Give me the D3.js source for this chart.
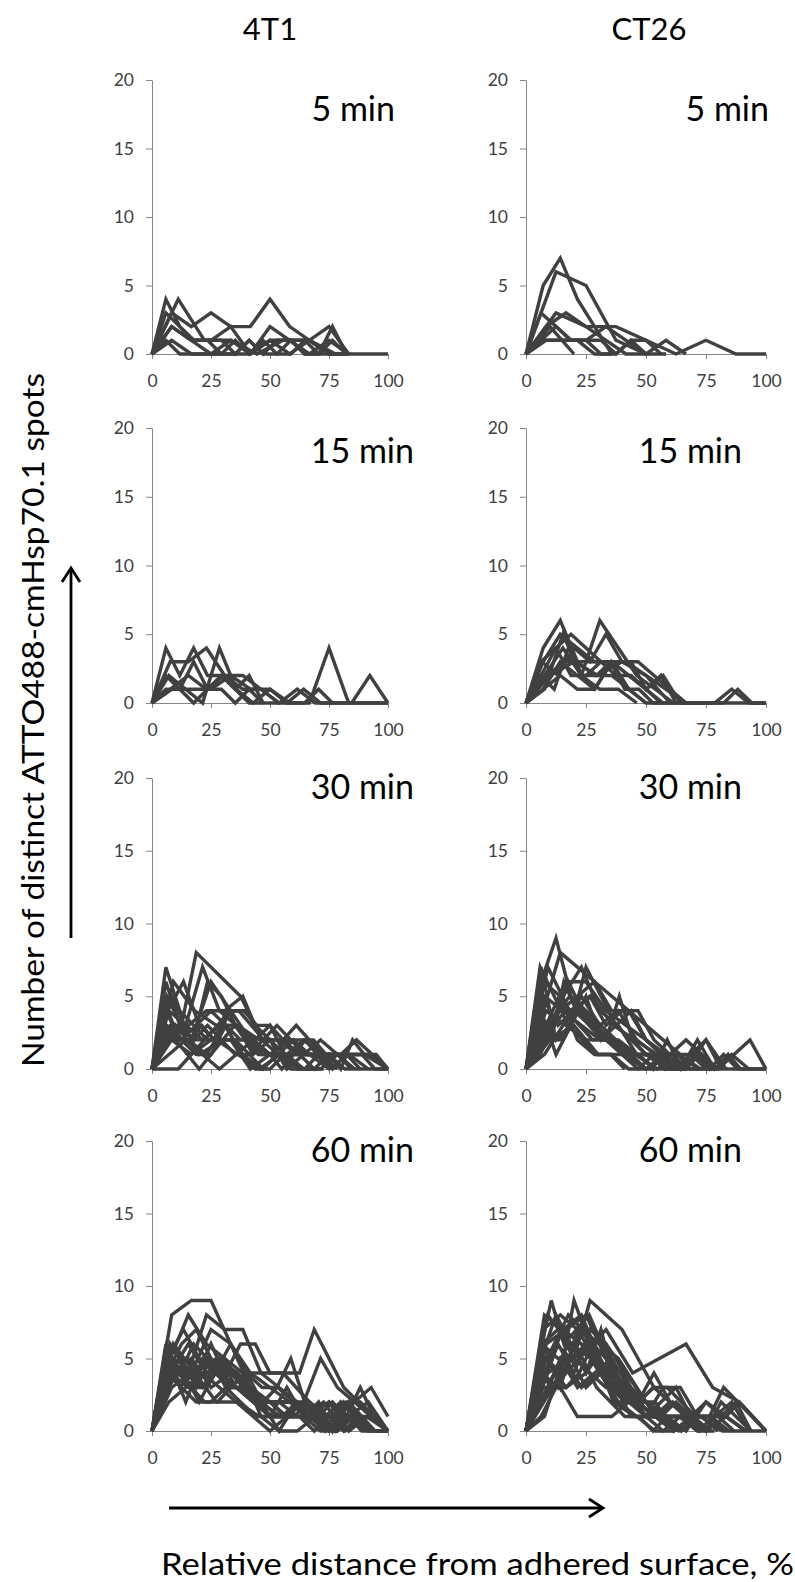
<!DOCTYPE html>
<html>
<head>
<meta charset="utf-8">
<script src="https://cdn.jsdelivr.net/npm/d3@7"></script>
<style>
  body { margin: 0; background: #fff; }
  svg { display: block; }
  text { font-family: Lato, "Open Sans", "Liberation Sans", sans-serif; }
</style>
</head>
<body>
<svg id="chart" width="795" height="1582"></svg>
<script>
// Categories and labels
const cellLines = ["4T1", "CT26"];
const timePoints = ["5 min", "15 min", "30 min", "60 min"];
const xTicks = [0, 25, 50, 75, 100];
const yTicks = [0, 5, 10, 15, 20];
const yTitle = "Number of distinct ATTO488-cmHsp70.1 spots";
const xTitle = "Relative distance from adhered surface, %";

// One trace per cell: n = number of slice intervals spanning 0–100 %,
// y = number of spots counted in each successive slice.
const t4T1_5 = [
  { n: 12, y: [0, 3, 2, 3, 2, 2, 4, 2, 1, 2, 0, 0, 0] },
  { n: 17, y: [0, 4, 2, 1, 1, 0, 0, 1, 0, 0, 1, 0, 0, 2, 0] },
  { n: 9,  y: [0, 4, 1, 1, 0, 1, 1, 0] },
  { n: 12, y: [0, 2, 1, 1, 2, 0, 1, 1, 0, 1, 0] },
  { n: 12, y: [0, 1, 0, 0, 1, 0, 1, 0, 1, 0, 0] },
  { n: 17, y: [0, 3, 2, 1, 1, 1, 0, 1, 0, 1, 1, 0, 0, 1, 0] },
  { n: 12, y: [0, 2, 1, 0, 0, 0, 2, 1, 1, 0, 0] },
  { n: 17, y: [0, 1, 0, 0, 0, 0, 1, 0, 1, 0, 0, 1, 0, 0, 0] }
];
const tCT26_5 = [
  { n: 14, y: [0, 5, 7, 4, 2, 0] },
  { n: 8,  y: [0, 6, 5, 1, 0] },
  { n: 8,  y: [0, 3, 2, 2, 1, 0, 1, 0, 0] },
  { n: 16, y: [0, 3, 2, 1, 1, 0, 0, 1, 0] },
  { n: 12, y: [0, 2, 3, 2, 1, 0, 0, 1, 0] },
  { n: 12, y: [0, 1, 1, 1, 2, 1, 0, 0] },
  { n: 10, y: [0, 2, 0] },
  { n: 16, y: [0, 1, 2, 1, 1, 1, 0, 1, 1, 0] },
  { n: 14, y: [0, 1, 1, 1, 0, 0] }
];
const t4T1_15 = [
  { n: 17, y: [0, 4, 2, 4, 2, 2, 1, 0, 0] },
  { n: 13, y: [0, 3, 3, 4, 2, 2, 1, 0, 1, 0, 0, 0, 2, 0] },
  { n: 14, y: [0, 2, 1, 0, 4, 1, 0, 1, 0, 1, 0, 0, 0, 0, 0] },
  { n: 12, y: [0, 1, 1, 1, 2, 1, 1, 0, 0, 4, 0, 0, 0] },
  { n: 17, y: [0, 2, 1, 0, 1, 2, 1, 2, 0, 0, 0, 0, 1, 0] },
  { n: 13, y: [0, 1, 2, 1, 2, 1, 1, 0] },
  { n: 17, y: [0, 1, 1, 3, 1, 1, 0, 1, 0] }
];
const tCT26_15 = [
  { n: 14, y: [0, 4, 6, 3, 2, 2, 1, 0, 0, 0, 0, 0, 0, 0, 0] },
  { n: 14, y: [0, 3, 5, 4, 3, 3, 1, 0] },
  { n: 16, y: [0, 2, 4, 5, 4, 3, 2, 2, 1, 0] },
  { n: 13, y: [0, 2, 4, 2, 6, 4, 2, 1, 0] },
  { n: 15, y: [0, 3, 2, 4, 3, 5, 3, 3, 2, 1, 0] },
  { n: 12, y: [0, 2, 3, 3, 3, 3, 2, 1, 0] },
  { n: 14, y: [0, 1, 3, 2, 1, 3, 2, 1, 2, 0, 0, 0, 1, 0, 0] },
  { n: 17, y: [0, 2, 1, 4, 2, 2, 3, 1, 1, 0, 0, 0, 0, 0, 0, 1, 0, 0] },
  { n: 10, y: [0, 2, 3, 2, 3, 2, 0] },
  { n: 14, y: [0, 1, 2, 1, 1, 3, 2, 1, 0] },
  { n: 16, y: [0, 3, 4, 2, 2, 3, 3, 3, 1, 2, 0] },
  { n: 13, y: [0, 1, 5, 2, 1, 1, 0] }
];
const t4T1_30 = [
  { n: 16, y: [0, 5, 3, 8, 7, 6, 5, 3, 2, 1, 0] },
  { n: 17, y: [0, 7, 4, 3, 2, 2, 1, 1, 0, 1, 0] },
  { n: 11, y: [0, 6, 4, 3, 3, 2, 2, 1, 1, 0, 0, 0] },
  { n: 14, y: [0, 4, 3, 7, 4, 3, 2, 1, 1, 2, 1, 0] },
  { n: 13, y: [0, 3, 3, 4, 4, 5, 2, 2, 1, 1, 0] },
  { n: 18, y: [0, 0, 0, 1, 2, 3, 4, 4, 3, 3, 2, 3, 2, 1, 1, 1, 1, 0, 0] },
  { n: 12, y: [0, 5, 2, 6, 4, 2, 1, 2, 1, 1, 1, 1, 0] },
  { n: 15, y: [0, 4, 6, 3, 2, 4, 4, 2, 1, 2, 1, 1, 1, 2, 1, 0] },
  { n: 17, y: [0, 6, 3, 2, 6, 5, 3, 2, 1, 1, 0, 0, 1, 0] },
  { n: 16, y: [0, 3, 2, 3, 4, 3, 2, 2, 3, 1, 1, 0, 1, 0] },
  { n: 14, y: [0, 2, 3, 2, 3, 3, 1, 2, 0, 1, 2, 1, 0] },
  { n: 19, y: [0, 5, 2, 2, 3, 2, 4, 4, 3, 2, 2, 2, 2, 2, 1, 1, 0] },
  { n: 13, y: [0, 2, 2, 1, 3, 1, 0, 1, 0, 0] },
  { n: 11, y: [0, 3, 2, 2, 1, 0, 1, 0, 0] },
  { n: 16, y: [0, 4, 2, 1, 1, 3, 1, 0, 0, 1, 0] },
  { n: 20, y: [0, 3, 2, 1, 0, 1, 2, 3, 2, 1, 1, 0, 1, 2, 1, 1, 0, 2, 1, 1, 0] },
  { n: 12, y: [0, 2, 1, 2, 2, 0, 1, 2, 1, 0, 1, 0] },
  { n: 17, y: [0, 4, 2, 2, 3, 2, 2, 1, 2, 3, 2, 1, 1, 0, 1, 0] },
  { n: 14, y: [0, 1, 2, 1, 0, 1, 2, 1, 1, 0, 0, 1, 0] },
  { n: 10, y: [0, 3, 1, 2, 2, 1, 1, 1, 1, 1, 0] }
];
const tCT26_30 = [
  { n: 16, y: [0, 6, 9, 5, 4, 3, 2, 1, 0] },
  { n: 17, y: [0, 7, 5, 3, 2, 1, 1, 0] },
  { n: 11, y: [0, 7, 4, 5, 3, 2, 1, 0] },
  { n: 14, y: [0, 4, 8, 7, 6, 5, 4, 3, 2, 1, 0] },
  { n: 13, y: [0, 2, 5, 7, 4, 3, 1, 1, 0] },
  { n: 14, y: [0, 3, 4, 5, 6, 4, 4, 2, 1, 0] },
  { n: 12, y: [0, 3, 6, 6, 4, 3, 2, 1, 0] },
  { n: 15, y: [0, 5, 3, 4, 5, 3, 4, 4, 2, 1, 2, 1, 0] },
  { n: 16, y: [0, 7, 2, 3, 7, 5, 3, 2, 1, 1, 0, 1, 2, 0] },
  { n: 18, y: [0, 2, 3, 4, 3, 2, 2, 5, 2, 1, 1, 1, 0, 1, 0] },
  { n: 13, y: [0, 1, 3, 5, 3, 4, 2, 1, 0] },
  { n: 14, y: [0, 2, 2, 4, 3, 2, 1, 0, 0, 0, 2, 0, 1, 0] },
  { n: 16, y: [0, 4, 1, 3, 5, 2, 3, 4, 2, 1, 1, 1, 0, 0, 0, 0, 0] },
  { n: 11, y: [0, 3, 5, 3, 2, 1, 0, 1, 0] },
  { n: 17, y: [0, 1, 3, 6, 4, 3, 2, 1, 1, 0, 2, 0, 1, 0, 1, 0, 0, 0] },
  { n: 15, y: [0, 2, 4, 4, 3, 2, 1, 0, 1, 0, 0, 0, 0, 1, 2, 0] },
  { n: 12, y: [0, 4, 3, 2, 2, 1, 1, 0, 0, 2, 0] },
  { n: 14, y: [0, 6, 5, 2, 1, 1, 0, 0, 1, 0] },
  { n: 19, y: [0, 3, 2, 6, 4, 3, 2, 2, 1, 1, 1, 0, 1, 0, 0, 0, 1, 0] },
  { n: 13, y: [0, 5, 4, 3, 2, 2, 1, 0] },
  { n: 10, y: [0, 2, 3, 1, 1, 0] }
];
const t4T1_60 = [
  { n: 12, y: [0, 8, 9, 9, 6, 4, 3, 2, 1, 0, 1, 0] },
  { n: 13, y: [0, 5, 8, 6, 5, 3, 2, 2, 1, 1, 0] },
  { n: 13, y: [0, 6, 4, 8, 7, 7, 4, 3, 2, 1, 1, 0] },
  { n: 16, y: [0, 6, 5, 3, 5, 4, 6, 6, 4, 4, 4, 7, 5, 3, 2, 1, 0] },
  { n: 14, y: [0, 5, 4, 3, 5, 3, 2, 1, 1, 2, 5, 3, 2, 1, 0] },
  { n: 17, y: [0, 6, 3, 4, 5, 4, 4, 3, 2, 3, 5, 2, 1, 2, 1, 3, 1, 0] },
  { n: 14, y: [0, 2, 3, 4, 4, 3, 2, 2, 1, 1, 1, 1, 2, 3, 1] },
  { n: 12, y: [0, 4, 5, 3, 4, 3, 2, 2, 1, 2, 1, 0, 0] },
  { n: 15, y: [0, 5, 7, 5, 4, 3, 4, 2, 1, 1, 2, 1, 2, 1, 0] },
  { n: 16, y: [0, 4, 3, 2, 2, 3, 3, 2, 2, 1, 1, 1, 0, 2, 1, 0] },
  { n: 11, y: [0, 6, 4, 5, 4, 2, 1, 1, 2, 0, 1, 0] },
  { n: 13, y: [0, 4, 6, 4, 5, 3, 2, 0, 2, 1, 0, 1, 0] },
  { n: 18, y: [0, 5, 4, 4, 3, 5, 4, 3, 2, 1, 1, 2, 1, 1, 0, 2, 1, 0, 0] },
  { n: 14, y: [0, 3, 5, 4, 3, 2, 1, 0, 1, 2, 1, 0, 1, 0] },
  { n: 12, y: [0, 5, 3, 6, 3, 3, 1, 1, 1, 2, 0, 1, 0] },
  { n: 17, y: [0, 3, 4, 6, 5, 4, 3, 3, 2, 2, 2, 1, 2, 0, 2, 2, 1, 0] },
  { n: 13, y: [0, 4, 3, 3, 5, 4, 1, 0, 0, 1, 1, 0] },
  { n: 15, y: [0, 5, 4, 2, 4, 6, 4, 3, 3, 2, 1, 0, 2, 1, 1, 0] },
  { n: 14, y: [0, 5, 2, 5, 4, 4, 2, 1, 3, 1, 0, 0] },
  { n: 16, y: [0, 4, 6, 7, 5, 3, 2, 1, 1, 1, 1, 0, 1, 0, 1, 0] },
  { n: 11, y: [0, 5, 4, 2, 2, 1, 1, 2, 1, 1, 0] },
  { n: 12, y: [0, 3, 4, 7, 6, 3, 2, 2, 2, 1, 1, 2, 0] },
  { n: 18, y: [0, 3, 4, 3, 2, 2, 3, 4, 4, 4, 4, 3, 2, 1, 1, 1, 0, 0, 0] }
];
const tCT26_60 = [
  { n: 19, y: [0, 5, 9, 6, 7, 8, 6, 4, 3, 2, 1, 1, 0] },
  { n: 13, y: [0, 8, 7, 8, 5, 3, 2, 1, 0] },
  { n: 15, y: [0, 4, 3, 9, 6, 4, 3, 2, 3, 2, 1, 0] },
  { n: 15, y: [0, 6, 5, 5, 9, 8, 7, 5, 3, 2, 1, 1, 1, 0] },
  { n: 9,  y: [0, 3, 5, 7, 4, 5, 6, 3, 2, 0] },
  { n: 14, y: [0, 7, 8, 7, 6, 3, 2, 2, 1, 1, 0] },
  { n: 16, y: [0, 5, 8, 6, 4, 7, 3, 1, 1, 1, 2, 1, 0] },
  { n: 17, y: [0, 4, 6, 8, 7, 5, 3, 2, 2, 3, 3, 2, 1, 1, 0] },
  { n: 12, y: [0, 6, 7, 8, 5, 3, 2, 1, 1, 0, 1, 0] },
  { n: 15, y: [0, 3, 6, 4, 7, 6, 3, 2, 4, 2, 1, 1, 0] },
  { n: 14, y: [0, 2, 5, 3, 4, 5, 3, 1, 3, 3, 1, 1, 2, 0] },
  { n: 16, y: [0, 1, 3, 5, 6, 4, 2, 2, 1, 2, 3, 1, 2, 1, 2, 0] },
  { n: 13, y: [0, 5, 4, 7, 6, 5, 3, 1, 0, 1, 0] },
  { n: 18, y: [0, 4, 3, 3, 4, 6, 5, 3, 2, 1, 1, 2, 1, 0, 1, 1, 2, 1, 0] },
  { n: 11, y: [0, 8, 6, 5, 3, 2, 1, 1, 0] },
  { n: 14, y: [0, 3, 3, 1, 1, 1, 2, 1, 0, 1, 0] },
  { n: 15, y: [0, 6, 7, 5, 4, 3, 3, 2, 1, 2, 1, 0] },
  { n: 13, y: [0, 4, 7, 6, 4, 3, 2, 2, 0, 1, 1, 0] },
  { n: 16, y: [0, 3, 6, 5, 3, 4, 5, 3, 2, 1, 1, 1, 0, 2, 1, 0] },
  { n: 12, y: [0, 5, 3, 4, 6, 4, 2, 1, 0, 2, 1, 0] },
  { n: 17, y: [0, 2, 4, 6, 5, 3, 2, 1, 1, 0, 1, 0, 1, 1, 3, 2, 1, 0] },
  { n: 14, y: [0, 6, 3, 7, 5, 4, 2, 1, 1, 1, 0, 0] },
  { n: 11, y: [0, 4, 5, 6, 2, 1, 1, 0, 1, 0, 0, 0] },
  { n: 13, y: [0, 1, 5, 3, 4, 2, 1, 0, 0, 1, 0] }
];

// rows = time points, columns = cell lines
const panelTraces = [
  [t4T1_5, tCT26_5],
  [t4T1_15, tCT26_15],
  [t4T1_30, tCT26_30],
  [t4T1_60, tCT26_60]
];

// ---- layout ----
const colFrames = [{ x0: 152, x1: 388 }, { x0: 526, x1: 766 }];
const rowFrames = [
  { y0: 80, y1: 354 },
  { y0: 428, y1: 703 },
  { y0: 778, y1: 1069 },
  { y0: 1141, y1: 1431 }
];
// right end (x) of each time label, per column and row; baseline per row
const labelEnds = [[395, 414, 414, 414], [769, 742, 742, 742]];
const labelBase = [121, 463, 799, 1162];

const axisGrey = "#868686";
const textGrey = "#404040";
const lineGrey = "#404040";

const svg = d3.select("#chart");

panelTraces.forEach((row, r) => {
  row.forEach((traces, c) => {
    const cf = colFrames[c], rf = rowFrames[r];
    const x = d3.scaleLinear().domain([0, 100]).range([cf.x0, cf.x1]);
    const y = d3.scaleLinear().domain([0, 20]).range([rf.y1, rf.y0]);
    const g = svg.append("g");

    const ax = g.append("g")
      .attr("transform", `translate(${cf.x0},0)`)
      .call(d3.axisLeft(y).tickValues(yTicks).tickSize(6).tickSizeOuter(0).tickPadding(12));
    const bx = g.append("g")
      .attr("transform", `translate(0,${rf.y1})`)
      .call(d3.axisBottom(x).tickValues(xTicks).tickSize(5).tickSizeOuter(0).tickPadding(16));
    [ax, bx].forEach(a => {
      a.select(".domain").attr("stroke", axisGrey);
      a.selectAll(".tick line").attr("stroke", axisGrey);
      a.selectAll(".tick text")
        .attr("fill", textGrey)
        .style("font-size", "17.5px")
        .style("font-family", "Lato, 'Open Sans', sans-serif");
    });

    const line = d3.line()
      .x(d => x(d.i * 100 / d.n))
      .y(d => y(d.v));

    g.append("g")
      .selectAll("path")
      .data(traces)
      .join("path")
      .attr("d", t => line(t.y.map((v, i) => ({ v, i, n: t.n }))))
      .attr("fill", "none")
      .attr("stroke", lineGrey)
      .attr("stroke-width", 3.4)
      .attr("stroke-linejoin", "miter")
      .attr("stroke-miterlimit", 4);

    g.append("text")
      .attr("x", labelEnds[c][r])
      .attr("y", labelBase[r])
      .attr("text-anchor", "end")
      .style("font-size", "34px")
      .attr("fill", "#000")
      .text(timePoints[r]);
  });
});

// column headers
cellLines.forEach((name, c) => {
  svg.append("text")
    .attr("x", [270, 649][c])
    .attr("y", 40)
    .attr("text-anchor", "middle")
    .style("font-size", "31px")
    .attr("fill", "#000")
    .text(name);
});

// y-axis title and arrow
svg.append("text")
  .attr("transform", "translate(44,720) rotate(-90)")
  .attr("text-anchor", "middle")
  .attr("textLength", 694)
  .attr("lengthAdjust", "spacingAndGlyphs")
  .style("font-size", "31px")
  .attr("fill", "#000")
  .text(yTitle);

const arrow = svg.append("g").attr("stroke", "#000").attr("stroke-width", 2.8).attr("fill", "none");
arrow.append("line").attr("x1", 71).attr("y1", 938).attr("x2", 71).attr("y2", 569);
arrow.append("polyline").attr("points", "62,582 71,568 80,582");
arrow.append("line").attr("x1", 169).attr("y1", 1508).attr("x2", 602).attr("y2", 1508);
arrow.append("polyline").attr("points", "589,1499 603,1508 589,1517");

// x-axis title
svg.append("text")
  .attr("x", 161)
  .attr("y", 1575)
  .attr("textLength", 633)
  .attr("lengthAdjust", "spacingAndGlyphs")
  .style("font-size", "31px")
  .attr("fill", "#000")
  .text(xTitle);
</script>
</body>
</html>
